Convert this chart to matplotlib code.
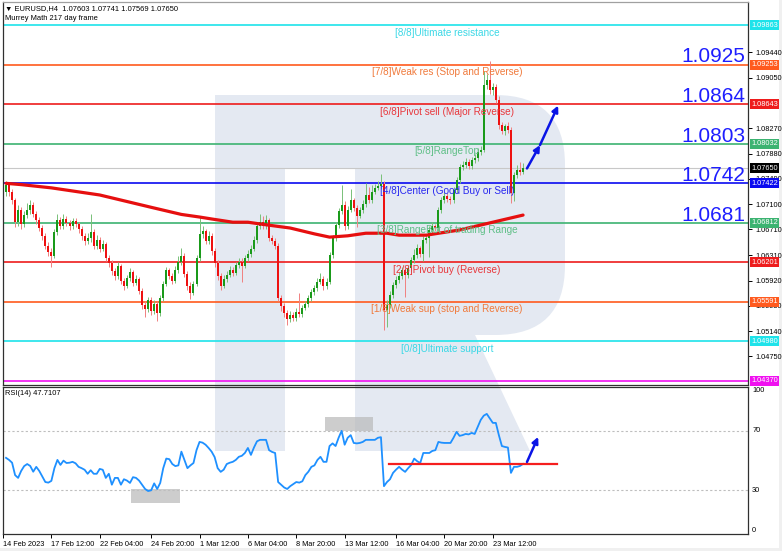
import matplotlib.pyplot as plt
from matplotlib.patches import Rectangle, Polygon, FancyBboxPatch

plt.rcParams['font.family'] = ['Liberation Sans', 'DejaVu Sans']

# ---- data ------------------------------------------------------------------
opens = [1.0729, 1.0739, 1.0729, 1.0716, 1.0682, 1.0701, 1.0679, 1.0693, 1.0701, 1.0709,
         1.0695, 1.0685, 1.0673, 1.0661, 1.0645, 1.0636, 1.0630, 1.0667, 1.0685, 1.0676,
         1.0687, 1.0681, 1.0676, 1.0684, 1.0679, 1.0672, 1.0661, 1.0653, 1.0658, 1.0667,
         1.0645, 1.0655, 1.0641, 1.0648, 1.0627, 1.0619, 1.0607, 1.0599, 1.0615, 1.0591,
         1.0584, 1.0596, 1.0605, 1.0588, 1.0594, 1.0576, 1.0554, 1.0548, 1.0562, 1.0545,
         1.0556, 1.0542, 1.0565, 1.0587, 1.0608, 1.0599, 1.0591, 1.0608, 1.0621, 1.0630,
         1.0602, 1.0584, 1.0573, 1.0587, 1.0627, 1.0664, 1.0668, 1.0653, 1.0661, 1.0638,
         1.0619, 1.0599, 1.0584, 1.0594, 1.0601, 1.0608, 1.0604, 1.0616, 1.0621, 1.0615,
         1.0627, 1.0633, 1.0641, 1.0655, 1.0676, 1.0682, 1.0676, 1.0685, 1.0658, 1.0653,
         1.0645, 1.0565, 1.0553, 1.0542, 1.0533, 1.0539, 1.0534, 1.0544, 1.0540, 1.0550,
         1.0556, 1.0565, 1.0574, 1.0580, 1.0590, 1.0594, 1.0584, 1.0590, 1.0631, 1.0658,
         1.0678, 1.0699, 1.0709, 1.0676, 1.0701, 1.0716, 1.0704, 1.0692, 1.0701, 1.0710,
         1.0724, 1.0716, 1.0729, 1.0735, 1.0738, 1.0741, 1.0547, 1.0554, 1.0570, 1.0585,
         1.0593, 1.0599, 1.0608, 1.0601, 1.0611, 1.0624, 1.0631, 1.0642, 1.0633, 1.0655,
         1.0658, 1.0670, 1.0676, 1.0673, 1.0701, 1.0716, 1.0723, 1.0718, 1.0716, 1.0732,
         1.0747, 1.0767, 1.0770, 1.0775, 1.0769, 1.0778, 1.0781, 1.0790, 1.0794, 1.0894,
         1.0902, 1.0886, 1.0891, 1.0871, 1.0832, 1.0822, 1.0830, 1.0824, 1.0727, 1.0755,
         1.0763, 1.0760]
closes = [1.0739, 1.0729, 1.0716, 1.0682, 1.0701, 1.0679, 1.0693, 1.0701, 1.0709, 1.0695,
          1.0685, 1.0673, 1.0661, 1.0645, 1.0636, 1.0630, 1.0667, 1.0685, 1.0676, 1.0687,
          1.0681, 1.0676, 1.0684, 1.0679, 1.0672, 1.0661, 1.0653, 1.0658, 1.0667, 1.0645,
          1.0655, 1.0641, 1.0648, 1.0627, 1.0619, 1.0607, 1.0599, 1.0615, 1.0591, 1.0584,
          1.0596, 1.0605, 1.0588, 1.0594, 1.0576, 1.0554, 1.0548, 1.0562, 1.0545, 1.0556,
          1.0542, 1.0565, 1.0587, 1.0608, 1.0599, 1.0591, 1.0608, 1.0621, 1.0630, 1.0602,
          1.0584, 1.0573, 1.0587, 1.0627, 1.0664, 1.0668, 1.0653, 1.0661, 1.0638, 1.0619,
          1.0599, 1.0584, 1.0594, 1.0601, 1.0608, 1.0604, 1.0616, 1.0621, 1.0615, 1.0627,
          1.0633, 1.0641, 1.0655, 1.0676, 1.0682, 1.0676, 1.0685, 1.0658, 1.0653, 1.0645,
          1.0565, 1.0553, 1.0542, 1.0533, 1.0539, 1.0534, 1.0544, 1.0540, 1.0550, 1.0556,
          1.0565, 1.0574, 1.0580, 1.0590, 1.0594, 1.0584, 1.0590, 1.0631, 1.0658, 1.0678,
          1.0699, 1.0709, 1.0676, 1.0701, 1.0716, 1.0704, 1.0692, 1.0701, 1.0710, 1.0724,
          1.0716, 1.0729, 1.0735, 1.0738, 1.0741, 1.0547, 1.0554, 1.0570, 1.0585, 1.0593,
          1.0599, 1.0608, 1.0601, 1.0611, 1.0624, 1.0631, 1.0642, 1.0633, 1.0655, 1.0658,
          1.0670, 1.0676, 1.0673, 1.0701, 1.0716, 1.0723, 1.0718, 1.0716, 1.0732, 1.0747,
          1.0767, 1.0770, 1.0775, 1.0769, 1.0778, 1.0781, 1.0790, 1.0794, 1.0894, 1.0902,
          1.0886, 1.0891, 1.0871, 1.0832, 1.0822, 1.0830, 1.0824, 1.0727, 1.0755, 1.0763,
          1.0760, 1.0765]
highs = [1.0745, 1.0744, 1.0734, 1.0720, 1.0708, 1.0705, 1.0699, 1.0712, 1.0716, 1.0713,
         1.0700, 1.0690, 1.0677, 1.0665, 1.0651, 1.0642, 1.0672, 1.0695, 1.0690, 1.0694,
         1.0691, 1.0686, 1.0689, 1.0688, 1.0683, 1.0676, 1.0665, 1.0666, 1.0695, 1.0671,
         1.0662, 1.0659, 1.0655, 1.0652, 1.0631, 1.0624, 1.0612, 1.0620, 1.0618, 1.0596,
         1.0601, 1.0611, 1.0609, 1.0600, 1.0598, 1.0580, 1.0560, 1.0567, 1.0566, 1.0562,
         1.0560, 1.0570, 1.0592, 1.0613, 1.0612, 1.0603, 1.0614, 1.0630, 1.0642, 1.0634,
         1.0606, 1.0589, 1.0592, 1.0632, 1.0690, 1.0676, 1.0672, 1.0668, 1.0665, 1.0642,
         1.0623, 1.0603, 1.0600, 1.0607, 1.0614, 1.0613, 1.0621, 1.0627, 1.0626, 1.0632,
         1.0639, 1.0647, 1.0660, 1.0681, 1.0694, 1.0692, 1.0693, 1.0689, 1.0663, 1.0658,
         1.0650, 1.0570, 1.0558, 1.0546, 1.0545, 1.0543, 1.0549, 1.0573, 1.0555, 1.0561,
         1.0570, 1.0579, 1.0585, 1.0596, 1.0603, 1.0599, 1.0596, 1.0636, 1.0663, 1.0683,
         1.0704, 1.0739, 1.0714, 1.0707, 1.0733, 1.0720, 1.0709, 1.0706, 1.0716, 1.0742,
         1.0737, 1.0740, 1.0741, 1.0745, 1.0757, 1.0745, 1.0562, 1.0576, 1.0590, 1.0599,
         1.0605, 1.0613, 1.0612, 1.0616, 1.0629, 1.0640, 1.0648, 1.0646, 1.0660, 1.0664,
         1.0676, 1.0682, 1.0680, 1.0706, 1.0721, 1.0729, 1.0727, 1.0722, 1.0737, 1.0752,
         1.0772, 1.0776, 1.0781, 1.0779, 1.0783, 1.0787, 1.0796, 1.0800, 1.0915, 1.0910,
         1.0930, 1.0897, 1.0895, 1.0876, 1.0837, 1.0834, 1.0836, 1.0829, 1.0760, 1.0770,
         1.0775, 1.0774]
lows = [1.0722, 1.0722, 1.0710, 1.0675, 1.0676, 1.0672, 1.0675, 1.0689, 1.0695, 1.0690,
        1.0679, 1.0668, 1.0655, 1.0640, 1.0630, 1.0613, 1.0626, 1.0662, 1.0671, 1.0672,
        1.0676, 1.0670, 1.0671, 1.0674, 1.0666, 1.0655, 1.0647, 1.0648, 1.0652, 1.0640,
        1.0641, 1.0636, 1.0637, 1.0622, 1.0613, 1.0601, 1.0593, 1.0595, 1.0586, 1.0578,
        1.0580, 1.0592, 1.0583, 1.0585, 1.0571, 1.0548, 1.0536, 1.0543, 1.0539, 1.0540,
        1.0530, 1.0538, 1.0561, 1.0583, 1.0594, 1.0586, 1.0588, 1.0604, 1.0616, 1.0597,
        1.0578, 1.0563, 1.0569, 1.0583, 1.0622, 1.0657, 1.0648, 1.0648, 1.0632, 1.0613,
        1.0593, 1.0578, 1.0580, 1.0590, 1.0597, 1.0599, 1.0600, 1.0611, 1.0590, 1.0611,
        1.0622, 1.0628, 1.0637, 1.0650, 1.0671, 1.0671, 1.0672, 1.0653, 1.0648, 1.0640,
        1.0560, 1.0545, 1.0535, 1.0524, 1.0528, 1.0529, 1.0530, 1.0535, 1.0536, 1.0546,
        1.0551, 1.0560, 1.0570, 1.0576, 1.0586, 1.0578, 1.0579, 1.0586, 1.0626, 1.0653,
        1.0673, 1.0694, 1.0670, 1.0672, 1.0697, 1.0699, 1.0675, 1.0688, 1.0696, 1.0705,
        1.0711, 1.0712, 1.0725, 1.0731, 1.0733, 1.0515, 1.0520, 1.0549, 1.0565, 1.0580,
        1.0588, 1.0594, 1.0567, 1.0596, 1.0606, 1.0619, 1.0626, 1.0628, 1.0622, 1.0650,
        1.0629, 1.0665, 1.0668, 1.0668, 1.0696, 1.0711, 1.0713, 1.0710, 1.0711, 1.0727,
        1.0742, 1.0762, 1.0765, 1.0764, 1.0764, 1.0773, 1.0776, 1.0785, 1.0790, 1.0888,
        1.0880, 1.0879, 1.0866, 1.0826, 1.0818, 1.0817, 1.0819, 1.0712, 1.0715, 1.0750,
        1.0755, 1.0757]

# 200 period moving average, read at a few bars
ma_bars = [0, 5, 15, 31, 48, 58, 64, 68, 75, 80, 86, 94, 102, 107, 113, 119, 126, 130, 139, 150, 161, 171]
ma_vals = [1.0742, 1.0740, 1.0735, 1.0724, 1.0705, 1.0694, 1.0690, 1.0687, 1.0682, 1.0682, 1.0678,
           1.0673, 1.0664, 1.0659, 1.0661, 1.0665, 1.0665, 1.0662, 1.0662, 1.0670, 1.0682, 1.0693]

rsi = [51.8, 50.4, 48.5, 40.1, 38.2, 42.9, 46.2, 47.6, 46.3, 42.4,
       45.7, 42.9, 39.2, 35.4, 35.0, 36.2, 44.8, 50.4, 47.0, 49.9,
       48.3, 48.5, 49.1, 48.1, 45.7, 44.8, 43.7, 41.0, 43.4, 41.0,
       41.0, 44.3, 43.7, 38.2, 41.0, 33.6, 38.2, 38.2, 33.6, 37.3,
       36.4, 34.8, 38.7, 38.2, 36.4, 33.6, 30.7, 29.3, 29.8, 34.5,
       30.7, 34.8, 44.8, 51.3, 50.9, 47.6, 46.2, 46.7, 56.0, 50.4,
       44.8, 46.7, 48.3, 57.0, 62.6, 62.1, 60.7, 58.5, 56.0, 52.3,
       44.8, 42.3, 43.8, 47.6, 48.5, 49.1, 50.4, 52.5, 53.2, 55.1,
       58.5, 53.8, 58.8, 63.0, 64.0, 64.0, 64.0, 57.0, 55.8, 55.1,
       35.4, 33.6, 31.7, 30.7, 32.6, 34.0, 35.4, 35.0, 35.9, 40.1,
       42.4, 45.7, 46.7, 50.4, 52.5, 49.1, 49.1, 59.8, 61.6, 59.8,
       65.4, 70.1, 60.7, 65.4, 67.2, 61.9, 61.6, 61.9, 62.6, 64.0,
       64.0, 64.0, 64.0, 65.4, 65.8, 32.6, 35.4, 37.3, 41.6, 43.8,
       45.7, 43.8, 42.3, 44.8, 47.0, 51.3, 49.5, 48.3, 55.1, 55.1,
       55.1, 56.5, 57.0, 62.6, 62.1, 61.9, 61.9, 61.9, 65.4, 69.4,
       66.7, 67.2, 68.0, 67.7, 68.7, 68.0, 72.8, 77.5, 80.4, 81.6,
       78.5, 75.5, 75.5, 67.2, 59.8, 59.2, 58.8, 41.6, 45.7, 45.7,
       46.3, 47.7107]

# Murrey Math levels
levels = [1.09863, 1.09253, 1.08643, 1.08032, 1.07422, 1.06812, 1.06201, 1.05591, 1.04980, 1.04370]
level_names = ['[8/8]Ultimate resistance', '[7/8]Weak res (Stop and Reverse)',
               '[6/8]Pivot sell (Major Reverse)', '[5/8]RangeTop', '[4/8]Center (Good Buy or Sell)',
               '[3/8]RangeBot of trading Range', '[2/8]Pivot buy (Reverse)',
               '[1/8]Weak sup (stop and Reverse)', '[0/8]Ultimate support', '']
level_colors = ['#1EE3EA', '#FF5A1E', '#EE1C1C', '#3CB371', '#0A0AF0',
                '#3CB371', '#EE1C1C', '#FF5A1E', '#1EE3EA', '#F010F0']
text_colors = ['#3CD8E6', '#F07A3C', '#E8373C', '#5FBF87', '#2828F0',
               '#5FBF87', '#E8373C', '#F07A3C', '#3CD8E6', '#F010F0']
big_labels = ['1.0925', '1.0864', '1.0803', '1.0742', '1.0681']
big_levels = [1.09253, 1.08643, 1.08032, 1.07422, 1.06812]
last_price = 1.07650

price_ticks = [1.0944, 1.0905, 1.0827, 1.0788, 1.0749, 1.0710, 1.0671, 1.0631, 1.0592, 1.0553, 1.0514, 1.0475]
time_ticks = [-1, 15, 31, 48, 64, 80, 96, 112, 129, 145, 161]
time_labels = ['14 Feb 2023', '17 Feb 12:00', '22 Feb 04:00', '24 Feb 20:00', '1 Mar 12:00', '6 Mar 04:00',
               '8 Mar 20:00', '13 Mar 12:00', '16 Mar 04:00', '20 Mar 20:00', '23 Mar 12:00']

# ---- figure ----------------------------------------------------------------
W, H = 782, 551
fig = plt.figure(figsize=(W / 100, H / 100), dpi=100)
fig.patch.set_facecolor('white')

# background with the watermark, in pixel coordinates
bg = fig.add_axes([0, 0, 1, 1], zorder=0)
bg.set_xlim(0, W)
bg.set_ylim(H, 0)
bg.axis('off')
wm = '#E4E9F2'
bg.add_patch(Rectangle((0, 548), W, 3, fc='#F0F0F0', ec='none'))
bg.add_patch(Rectangle((779, 0), 3, H, fc='#F0F0F0', ec='none'))
bg.add_patch(FancyBboxPatch((355, 95), 210, 240, boxstyle='round,pad=0,rounding_size=70', fc=wm, ec='none'))
bg.add_patch(Rectangle((215, 95), 70, 356, fc=wm, ec='none'))
bg.add_patch(Rectangle((215, 95), 280, 73, fc=wm, ec='none'))
bg.add_patch(Polygon([(355, 170), (430, 240), (530, 451), (355, 451)], closed=True, fc=wm, ec='none'))

x0, x1 = 3, 748
ax = fig.add_axes([x0 / W, 1 - 385 / H, (x1 - x0) / W, 383 / H], zorder=1)
rs = fig.add_axes([x0 / W, 1 - 534.25 / H, (x1 - x0) / W, 147.5 / H], zorder=1, sharex=ax)
for a in (ax, rs):
    a.set_facecolor('none')
    for s in a.spines.values():
        s.set_color('#303030')
        s.set_linewidth(0.9)
ax.spines['top'].set_color('#A0A0A0')

n = len(closes)
idx = list(range(n))
ax.set_xlim(-1, 245.4)
ax.set_ylim(1.04308, 1.10218)

# level lines and texts
for lv, name, lc, tc in zip(levels, level_names, level_colors, text_colors):
    ax.axhline(lv, color=lc, lw=1.2, zorder=2)
    if name:
        ax.annotate(name, xy=(145.9, lv), xytext=(0, -5.5), textcoords='offset points',
                    ha='center', va='center', fontsize=7.2, color=tc, zorder=6)
    ax.text(1.004, lv, f'{lv:.5f}', transform=ax.get_yaxis_transform(), ha='left', va='center',
            fontsize=5.3, color='white', clip_on=False, zorder=8,
            bbox=dict(boxstyle='square,pad=0.2', fc=lc, ec='none'))
ax.axhline(last_price, color='#C8C8C8', lw=0.8, zorder=1.5)
ax.text(1.004, last_price, f'{last_price:.5f}', transform=ax.get_yaxis_transform(), ha='left',
        va='center', fontsize=5.3, color='white', clip_on=False, zorder=8,
        bbox=dict(boxstyle='square,pad=0.2', fc='black', ec='none'))

for lab, lv in zip(big_labels, big_levels):
    ax.annotate(lab, xy=(1, lv), xycoords=ax.get_yaxis_transform(), xytext=(-2, 1.5),
                textcoords='offset points', ha='right', va='baseline', fontsize=15,
                color='#1E1EFF', zorder=7)

# candles
up_body, dn_body = '#1A9A1A', '#EE1111'
up_wick, dn_wick = '#78C078', '#F08080'
for i, o, h, l, c in zip(idx, opens, highs, lows, closes):
    up = c >= o
    ax.vlines(i, l, h, color=up_wick if up else dn_wick, lw=0.7, zorder=3)
    ax.bar(i, max(abs(c - o), 0.00006), bottom=min(o, c), width=0.66,
           color=up_body if up else dn_body, lw=0, zorder=4)

ax.plot(ma_bars, ma_vals, color='#E60F0F', lw=2.3, solid_capstyle='round', zorder=5)

# forecast arrows
arrow = dict(arrowstyle='-|>', color='#0A14E6', lw=1.8, mutation_scale=9, shrinkA=0, shrinkB=0)
ax.annotate('', xy=(176.6, 1.0801), xytext=(172.3, 1.0765), arrowprops=arrow, zorder=9)
ax.annotate('', xy=(182.6, 1.0862), xytext=(176.6, 1.0801), arrowprops=arrow, zorder=9)

# header
ax.text(0.003, 0.992, '\u25BC EURUSD,H4  1.07603 1.07741 1.07569 1.07650', transform=ax.transAxes,
        fontsize=5.4, ha='left', va='top', color='black')
ax.text(0.003, 0.965, 'Murrey Math 217 day frame', transform=ax.transAxes,
        fontsize=5.4, ha='left', va='top', color='black')

# price axis
ax.yaxis.tick_right()
ax.set_yticks(price_ticks)
ax.set_yticklabels([f'{t:.5f}' for t in price_ticks])
ax.tick_params(axis='y', labelsize=5.3, length=3, width=0.7, pad=2)
ax.tick_params(axis='x', bottom=False, labelbottom=False)

# ---- RSI -------------------------------------------------------------------
rs.set_ylim(0, 100)
rs.axhline(70, color='#BEBEBE', lw=0.8, ls=(0, (2, 2)))
rs.axhline(30, color='#BEBEBE', lw=0.8, ls=(0, (2, 2)))
rs.add_patch(Rectangle((41.3, 21.2), 16.3, 9.5, fc='#B9B9B9', ec='none', alpha=0.7, zorder=1))
rs.add_patch(Rectangle((105.5, 70.0), 15.9, 9.5, fc='#B9B9B9', ec='none', alpha=0.7, zorder=1))
rs.plot(idx, rsi, color='#1E90FF', lw=1.3, zorder=3)
rs.plot([126.7, 182.3], [47.6, 47.6], color='#F51E1E', lw=1.6, zorder=4)
rs.annotate('', xy=(176.0, 66.0), xytext=(172.3, 49.0), arrowprops=arrow, zorder=9)
rs.text(0.003, 0.975, 'RSI(14) 47.7107', transform=rs.transAxes, fontsize=5.4, ha='left', va='top')
rs.yaxis.tick_right()
rs.set_yticks([0, 30, 70, 100])
rs.set_yticklabels(['0', '30', '70', '100'])
for lab, va in zip(rs.get_yticklabels(), ['bottom', 'center', 'center', 'top']):
    lab.set_va(va)
rs.tick_params(axis='y', labelsize=5.3, length=0, pad=3)
rs.set_xticks(time_ticks)
rs.set_xticklabels(time_labels, ha='left')
rs.tick_params(axis='x', labelsize=5.3, length=3, width=0.7, pad=1.5)

fig.savefig('out.png', dpi=100)
